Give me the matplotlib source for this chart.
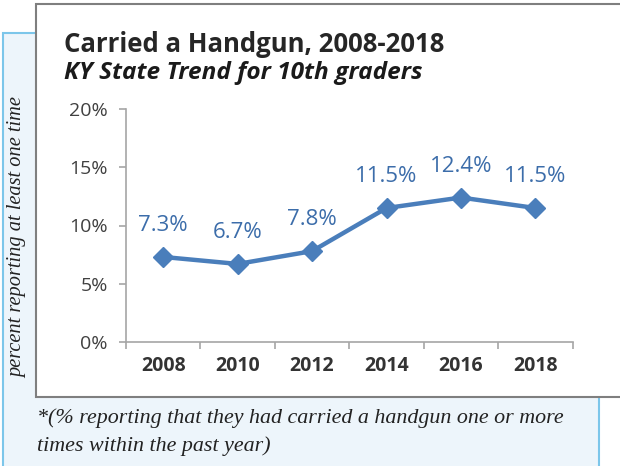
import matplotlib.pyplot as plt
from matplotlib.patches import Rectangle

years = ["2008", "2010", "2012", "2014", "2016", "2018"]
pct = [7.3, 6.7, 7.8, 11.5, 12.4, 11.5]
yticks = [0, 5, 10, 15, 20]

W, H = 620, 466
fig = plt.figure(figsize=(W / 100, H / 100), dpi=100)


def box(x0, y0, x1, y1, **kw):
    # pixel coords from top-left
    r = Rectangle((x0 / W, 1 - y1 / H), (x1 - x0) / W, (y1 - y0) / H,
                  transform=fig.transFigure, **kw)
    fig.add_artist(r)


box(3, 33, 599, 480, facecolor="#EDF5FB", edgecolor="#7CC6EA", lw=1.5, zorder=0)
box(36, 4, 640, 397, facecolor="white", edgecolor="#7F7F7F", lw=1.5, zorder=1)

ax = fig.add_axes([126 / W, 1 - 342 / H, 446.6 / W, 233 / H], zorder=2)
ax.patch.set_visible(False)

blue = "#4A7EBB"
x = range(len(years))
ax.plot(x, pct, color=blue, lw=3.2, marker="D", ms=10, clip_on=False)
for i, v in zip(x, pct):
    ax.annotate(f"{v}%", (i, v), xytext=(0, 15), textcoords="offset points",
                ha="center", va="bottom", fontsize=16, color="#3C6DAA",
                family="Open Sans")

ax.set_xlim(-0.5, len(years) - 0.5)
ax.set_ylim(0, 20)
ax.set_yticks(yticks)
ax.set_yticklabels([f"{t}%" for t in yticks], family="Open Sans", fontsize=14,
                   color="#404040")
ax.set_xticks(list(x))
ax.set_xticklabels(years, family="Open Sans", fontweight="bold", fontsize=14,
                   color="#333333")
ax.set_xticks([i - 0.5 for i in range(len(years) + 1)], minor=True)
ax.tick_params(axis="x", which="major", length=0, pad=10)
ax.tick_params(axis="x", which="minor", length=5, color="#A6A6A6", width=1.2)
ax.tick_params(axis="y", length=5, color="#A6A6A6", width=1.2, pad=8)
for s in ["top", "right"]:
    ax.spines[s].set_visible(False)
for s in ["left", "bottom"]:
    ax.spines[s].set_color("#A6A6A6")
    ax.spines[s].set_linewidth(1.2)

fig.text(64 / W, 1 - 52 / H, "Carried a Handgun, 2008-2018", family="Open Sans",
         fontweight="bold", fontsize=18.5, color="#262626")
fig.text(64 / W, 1 - 79 / H, "KY State Trend for 10th graders", family="Open Sans",
         fontweight="bold", style="italic", fontsize=17.6, color="#1A1A1A")

fig.text(18 / W, 1 - 238 / H, "percent reporting at least one time",
         family="Liberation Serif", style="italic", fontsize=14.7, rotation=90,
         ha="center", va="center", color="#222222")
fig.text(37 / W, 1 - 423 / H, "*(% reporting that they had carried a handgun one or more",
         family="Liberation Serif", style="italic", fontsize=15.8, color="#222222")
fig.text(37 / W, 1 - 451 / H, "times within the past year)",
         family="Liberation Serif", style="italic", fontsize=15.8, color="#222222")

fig.savefig("out.png", dpi=100)
